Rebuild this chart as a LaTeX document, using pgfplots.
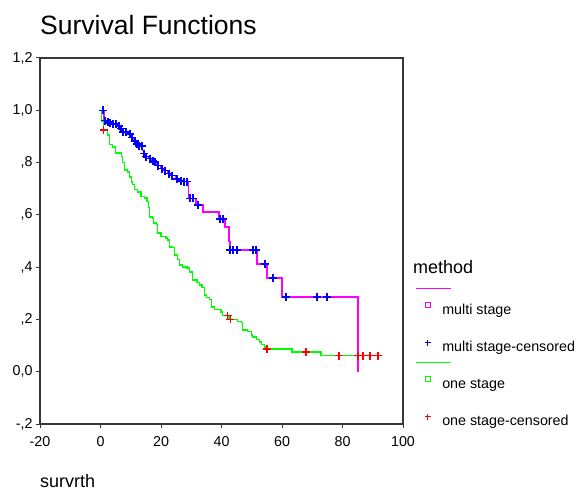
\documentclass[border=0pt]{standalone}
\usepackage{fontspec}
\setmainfont{Liberation Sans}
\usepackage{pgfplots}
\pgfplotsset{compat=1.18}
\definecolor{kmpink}{RGB}{255,0,255}
\definecolor{kmgreen}{RGB}{0,255,0}
\definecolor{kmblue}{RGB}{0,0,255}
\definecolor{kmred}{RGB}{255,0,0}
\definecolor{framegray}{RGB}{55,55,55}

\begin{document}
\begin{tikzpicture}[x=1bp,y=1bp]
\path[use as bounding box] (0,0) rectangle (576,-493);
\begin{axis}[
  at={(40bp,-424bp)}, anchor=south west,
  scale only axis, width=363bp, height=366bp,
  xmin=-20, xmax=100, ymin=-0.2, ymax=1.2,
  xtick={-20,0,20,40,60,80,100},
  xticklabels={-20,0,20,40,60,80,100},
  ytick={-0.2,0,0.2,0.4,0.6,0.8,1.0,1.2},
  yticklabels={{-,2},{0,0},{,2},{,4},{,6},{,8},{1,0},{1,2}},
  tick label style={font=\fontsize{14.3bp}{16bp}\selectfont},
  xticklabel style={yshift=-5bp},
  tick align=outside, xtick pos=left, ytick pos=left,
  major tick length=4bp,
  tick style={framegray, line width=1bp},
  axis line style={framegray, line width=1.6bp},
  clip=false,
  legend style={draw=none, fill=none, inner sep=0pt,
    at={(axis description cs:1.058,0.333)}, anchor=north west,
    font=\fontsize{14.3bp}{16bp}\selectfont,
    nodes={inner sep=0pt, text height=10bp, text depth=3bp},
    column sep=11bp, row sep=21.8bp},
  legend cell align=left,
]
% multi stage: Kaplan-Meier step function
\addplot[const plot, kmpink, line width=1.3bp,
  legend image code/.code={
    \draw[overlay, kmpink, line width=1.2bp] (-12bp,22.5bp) -- (23bp,22.5bp);
    \draw[kmpink, line width=0.9bp] (-2.5bp,3bp) rectangle (2.5bp,8bp);}]
coordinates {
(0,1.0) (1.2,0.960) (2.8,0.950) (3.6,0.947) (5.5,0.940) (6.5,0.930)
(7.1,0.917) (9.2,0.910) (10.1,0.895) (11.0,0.883) (11.8,0.872)
(12.4,0.864) (13.9,0.845) (14.2,0.834) (14.8,0.823) (16.0,0.815)
(17.0,0.807) (17.8,0.803) (18.6,0.788) (19.8,0.777) (21.0,0.769)
(22.2,0.758) (23.3,0.750) (24.8,0.738) (26.2,0.730) (27.2,0.727)
(29.1,0.663) (31.6,0.638) (33.9,0.611) (39.2,0.585) (41.2,0.554)
(42.5,0.497) (42.8,0.466) (51.7,0.412) (55.0,0.359) (60.0,0.286)
(85.1,0.0)
};
\addlegendentry{multi stage}
% multi stage: censored cases
\addplot[only marks, mark=+, kmblue, mark size=4bp, mark options={line width=1.5bp},
  legend image code/.code={
    \draw[kmblue, line width=1bp] (-3bp,5.5bp) -- (3bp,5.5bp) (0,2.5bp) -- (0,8.5bp);}]
coordinates {
(0.8,1.0) (1.5,0.960) (2.5,0.955) (3.1,0.950) (4.1,0.947) (5.1,0.947)
(6.1,0.940) (6.8,0.930) (7.4,0.917) (8.4,0.917) (9.8,0.910)
(10.4,0.895) (11.4,0.883) (12.0,0.872) (12.7,0.864) (13.7,0.864)
(14.4,0.834) (15.0,0.823) (16.4,0.815) (17.4,0.807) (18.0,0.803)
(19.0,0.788) (20.3,0.777) (21.3,0.769) (22.6,0.758) (23.6,0.750)
(25.3,0.738) (26.6,0.730) (27.6,0.727) (28.6,0.727) (29.6,0.663)
(30.6,0.663) (32.2,0.638) (39.5,0.585) (40.5,0.585) (42.8,0.466)
(43.8,0.466) (45.1,0.466) (50.4,0.466) (51.4,0.466) (54.4,0.412)
(57.0,0.359) (61.3,0.286) (71.6,0.286) (74.9,0.286)
};
\addlegendentry{multi stage-censored}
% one stage: Kaplan-Meier step function
\addplot[const plot, kmgreen, line width=1.3bp,
  legend image code/.code={
    \draw[overlay, kmgreen, line width=1.2bp] (-12bp,22.5bp) -- (23bp,22.5bp);
    \draw[kmgreen, line width=0.9bp] (-2.5bp,3bp) rectangle (2.5bp,8bp);}]
coordinates {
(0,1.0) (0.3,0.957) (0.9,0.925) (2.2,0.906) (3.0,0.868) (3.9,0.860)
(4.9,0.837) (6.9,0.822) (7.3,0.799) (7.9,0.772) (8.9,0.764)
(9.6,0.745) (10.2,0.726) (10.6,0.715) (11.2,0.696) (12.2,0.688)
(13.4,0.669) (14.5,0.665) (15.4,0.650) (15.9,0.627) (16.3,0.592)
(17.2,0.588) (17.6,0.569) (18.5,0.562) (18.8,0.531) (20.0,0.516)
(21.7,0.512) (22.2,0.504) (22.8,0.477) (23.8,0.474) (24.5,0.447)
(25.4,0.428) (26.1,0.408) (27.1,0.401) (28.6,0.397) (29.4,0.382)
(30.3,0.351) (31.9,0.340) (32.7,0.332) (33.6,0.321) (34.4,0.294)
(35.0,0.283) (36.0,0.275) (36.7,0.248) (37.7,0.237) (39.8,0.229)
(40.4,0.215) (42.5,0.200) (45.4,0.191) (46.6,0.187) (47.0,0.160)
(48.6,0.153) (49.9,0.141) (50.3,0.133) (51.5,0.122) (52.5,0.114)
(53.2,0.103) (54.2,0.095) (54.7,0.087) (63.3,0.076) (72.9,0.061)
(91.7,0.061)
};
\addlegendentry{one stage}
% one stage: censored cases
\addplot[only marks, mark=+, kmred, mark size=4bp, mark options={line width=1.3bp},
  legend image code/.code={
    \draw[kmred, line width=1bp] (-3bp,5.5bp) -- (3bp,5.5bp) (0,2.5bp) -- (0,8.5bp);}]
coordinates {
(1.0,0.925) (42.0,0.215) (42.9,0.200) (55.0,0.087) (67.9,0.076)
(78.8,0.061) (85.1,0.061) (86.8,0.061) (89.1,0.061) (91.7,0.061)
};
\addlegendentry{one stage-censored}
\end{axis}
\node[anchor=base west, inner sep=0pt, font=\fontsize{26.5bp}{30bp}\selectfont] at (40,-35) {Survival Functions};
\node[anchor=base west, inner sep=0pt, font=\fontsize{18bp}{20bp}\selectfont] at (413,-273) {method};
\node[anchor=base west, inner sep=0pt, font=\fontsize{18bp}{20bp}\selectfont] at (40,-487) {survrth};
\end{tikzpicture}
\end{document}
